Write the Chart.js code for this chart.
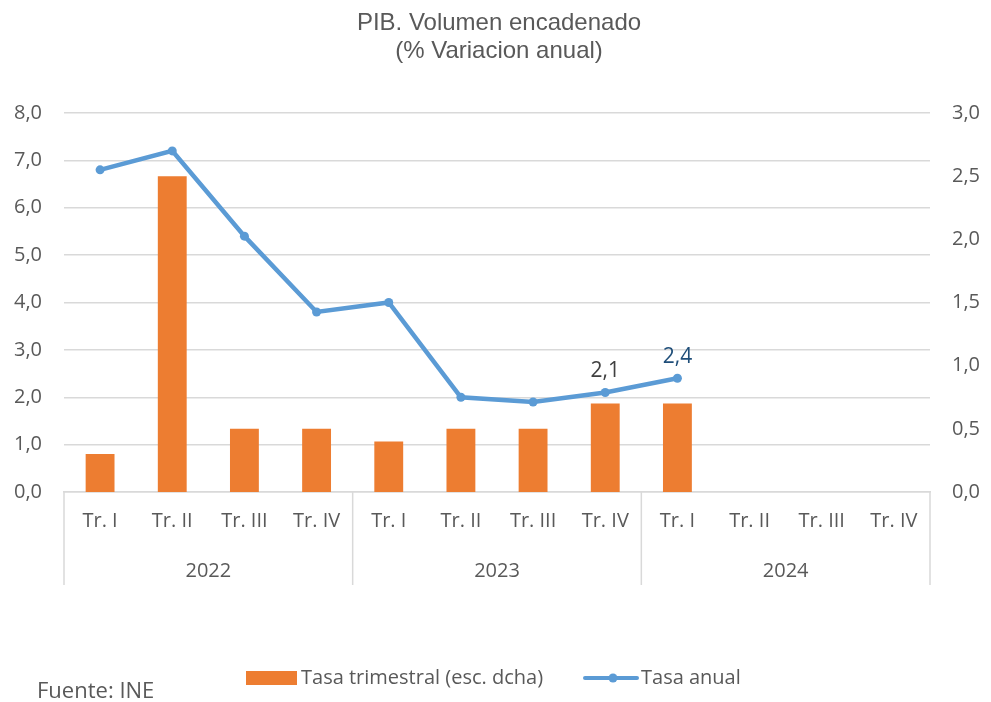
<!DOCTYPE html>
<html lang="es">
<head>
<meta charset="UTF-8">
<title>PIB. Volumen encadenado</title>
<script src="https://cdn.jsdelivr.net/npm/chart.js@4.4.1/dist/chart.umd.min.js"></script>
<style>
    html, body { margin: 0; padding: 0; background: #fff; }
</style>
</head>
<body>
<canvas id="pibChart" width="991" height="702"></canvas>
<script>
// Datos
const quarters = ['Tr. I', 'Tr. II', 'Tr. III', 'Tr. IV', 'Tr. I', 'Tr. II', 'Tr. III', 'Tr. IV', 'Tr. I', 'Tr. II', 'Tr. III', 'Tr. IV'];
const years = ['2022', '2023', '2024'];
const tasaTrimestral = [0.3, 2.5, 0.5, 0.5, 0.4, 0.5, 0.5, 0.7, 0.7, null, null, null];
const tasaAnual = [6.8, 7.2, 5.4, 3.8, 4.0, 2.0, 1.9, 2.1, 2.4, null, null, null];
const labelledPoints = [7, 8];
const labelColors = ['#404040', '#1f4e79'];

const FONT = '"Open Sans", Lato, sans-serif';
const GREY = '#595959';
const fmt = v => Number(v).toFixed(1).replace('.', ',');

// titulo, anios, separadores, etiquetas, leyenda y fuente
const extras = {
    id: 'extras',
    afterDraw(chart) {
        const ctx = chart.ctx;
        const x = chart.scales.x;
        const area = chart.chartArea;
        ctx.save();

        // titulo
        ctx.fillStyle = GREY;
        ctx.textAlign = 'center';
        ctx.textBaseline = 'middle';
        ctx.font = '24px "Liberation Sans", Arial, sans-serif';
        ctx.fillText('PIB. Volumen encadenado', 499, 23);
        ctx.fillText('(% Variacion anual)', 499, 51);

        // separadores de anios y etiquetas de anio
        const step = (x.right - x.left) / quarters.length;
        ctx.strokeStyle = '#d9d9d9';
        ctx.lineWidth = 1.5;
        for (let g = 0; g <= years.length; g++) {
            const px = x.left + g * 4 * step;
            ctx.beginPath();
            ctx.moveTo(px, area.bottom);
            ctx.lineTo(px, 585);
            ctx.stroke();
        }
        ctx.font = '20px ' + FONT;
        ctx.fillStyle = GREY;
        years.forEach((y, g) => {
            const px = x.left + (g * 4 + 2) * step;
            ctx.fillText(y, px, 571);
        });

        // etiquetas de datos
        const meta = chart.getDatasetMeta(0);
        ctx.font = '21px ' + FONT;
        labelledPoints.forEach((i, k) => {
            const pt = meta.data[i];
            ctx.fillStyle = labelColors[k];
            ctx.fillText(fmt(tasaAnual[i]), pt.x, pt.y - 21);
        });

        // leyenda
        ctx.textAlign = 'left';
        ctx.font = '20px ' + FONT;
        ctx.fillStyle = '#ed7d31';
        ctx.fillRect(246, 671, 51, 14);
        ctx.fillStyle = GREY;
        ctx.fillText('Tasa trimestral (esc. dcha)', 301, 678);
        ctx.strokeStyle = '#5b9bd5';
        ctx.lineWidth = 4;
        ctx.lineCap = 'round';
        ctx.beginPath();
        ctx.moveTo(585, 678);
        ctx.lineTo(637, 678);
        ctx.stroke();
        ctx.fillStyle = '#5b9bd5';
        ctx.beginPath();
        ctx.arc(613, 678, 4.5, 0, Math.PI * 2);
        ctx.fill();
        ctx.fillStyle = GREY;
        ctx.fillText('Tasa anual', 641, 678);

        // fuente
        ctx.font = '22px ' + FONT;
        ctx.fillText('Fuente: INE', 37, 692);
        ctx.restore();
    }
};

new Chart(document.getElementById('pibChart'), {
    type: 'bar',
    data: {
        labels: quarters,
        datasets: [{
            type: 'line',
            label: 'Tasa anual',
            data: tasaAnual,
            yAxisID: 'y',
            borderColor: '#5b9bd5',
            backgroundColor: '#5b9bd5',
            borderWidth: 4.5,
            pointRadius: 4.5,
            pointBorderWidth: 0,
            pointHoverRadius: 4.5,
            tension: 0,
            spanGaps: false,
            order: 1
        }, {
            type: 'bar',
            label: 'Tasa trimestral (esc. dcha)',
            data: tasaTrimestral,
            yAxisID: 'y1',
            backgroundColor: '#ed7d31',
            barPercentage: 0.4,
            categoryPercentage: 1,
            order: 2
        }]
    },
    options: {
        responsive: false,
        animation: false,
        layout: { padding: { top: 113, bottom: 100, left: 0, right: 0 } },
        plugins: {
            legend: { display: false },
            title: { display: false },
            tooltip: { enabled: false }
        },
        scales: {
            x: {
                grid: { display: false, drawTicks: false },
                border: { display: true, color: '#d9d9d9', width: 1.5 },
                ticks: { color: GREY, font: { family: FONT, size: 20 }, padding: 17, maxRotation: 0, autoSkip: false },
                afterFit(s) { s.height = 110; }
            },
            y: {
                position: 'left',
                min: 0, max: 8,
                ticks: { stepSize: 1, color: GREY, font: { family: FONT, size: 20 }, padding: 22, callback: fmt },
                grid: { color: '#d9d9d9', lineWidth: 1.5, drawTicks: false },
                border: { display: false },
                afterFit(s) { s.width = 64; }
            },
            y1: {
                position: 'right',
                min: 0, max: 3,
                ticks: { stepSize: 0.5, color: GREY, font: { family: FONT, size: 20 }, padding: 22, callback: fmt },
                grid: { display: false, drawTicks: false },
                border: { display: false },
                afterFit(s) { s.width = 61; }
            }
        }
    },
    plugins: [extras]
});
</script>
</body>
</html>
